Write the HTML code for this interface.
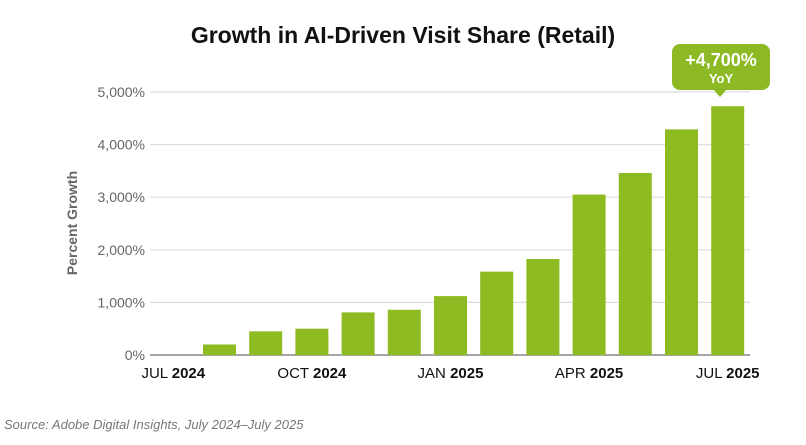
<!DOCTYPE html>
<html><head><meta charset="utf-8"><style>
body{margin:0;background:#fff;font-family:"Liberation Sans",sans-serif;}
svg text{font-family:"Liberation Sans",sans-serif;}
</style></head><body>
<svg width="806" height="440" id="c">
<text x="403" y="43" text-anchor="middle" font-size="23" font-weight="bold" fill="#111">Growth in AI-Driven Visit Share (Retail)</text>
<text transform="translate(77,223) rotate(-90)" text-anchor="middle" font-size="14" fill="#666" font-weight="bold">Percent Growth</text>
<text x="4" y="429" font-size="13" font-style="italic" fill="#777">Source: Adobe Digital Insights, July 2024–July 2025</text>
<g id="grid"></g><g id="bars"></g><g id="xl"></g>
<g>
<rect x="672" y="44" width="98" height="46" rx="8" fill="#8cb924"/>
<polygon points="713,89 727,89 720,97" fill="#8cb924"/>
<text x="721" y="66" text-anchor="middle" font-size="18" font-weight="bold" fill="#fff">+4,700%</text>
<text x="721" y="83" text-anchor="middle" font-size="13" font-weight="bold" fill="#fff">YoY</text>
</g>
</svg>
<script>
const months=["JUL 2024","AUG 2024","SEP 2024","OCT 2024","NOV 2024","DEC 2024","JAN 2025","FEB 2025","MAR 2025","APR 2025","MAY 2025","JUN 2025","JUL 2025"];
const values=[0,200,450,500,810,860,1120,1585,1825,3050,3460,4290,4730];
const yTicks=[0,1000,2000,3000,4000,5000];
const yTickLabels=["0%","1,000%","2,000%","3,000%","4,000%","5,000%"];
const xLabelIdx=[0,3,6,9,12];
const NS="http://www.w3.org/2000/svg";
const y=v=>355-v*(263/5000);
const x=i=>173.3+i*46.2;
function mk(t,a,p){const e=document.createElementNS(NS,t);for(const k in a)e.setAttribute(k,a[k]);p.appendChild(e);return e;}
const G=document.getElementById('grid'),B=document.getElementById('bars'),X=document.getElementById('xl');
yTicks.forEach((v,i)=>{
 const l=mk('line',{x1:150,x2:750,y1:y(v),y2:y(v),stroke:v===0?'#888':'#ddd','stroke-width':v===0?1.5:1.2},G);
 
 
 const t=mk('text',{x:145,y:y(v)+5,'text-anchor':'end','font-size':14,fill:'#666'},G);
 t.textContent=yTickLabels[i];
 
 
});
values.forEach((v,i)=>{
 if(v<=0)return;
 const r=mk('rect',{x:x(i)-16.5,y:y(v),width:33,height:y(0)-y(v),fill:'#8fbb22'},B);
 
 
});
xLabelIdx.forEach(i=>{
 const p=months[i].split(' ');
 const t=mk('text',{x:x(i),y:378,'text-anchor':'middle','font-size':15,fill:'#111'},X);
 
 
 const a=mk('tspan',{},t);a.textContent=p[0]+' ';
 const b=mk('tspan',{'font-weight':'bold'},t);b.textContent=p[1];
});
</script>
</body></html>
